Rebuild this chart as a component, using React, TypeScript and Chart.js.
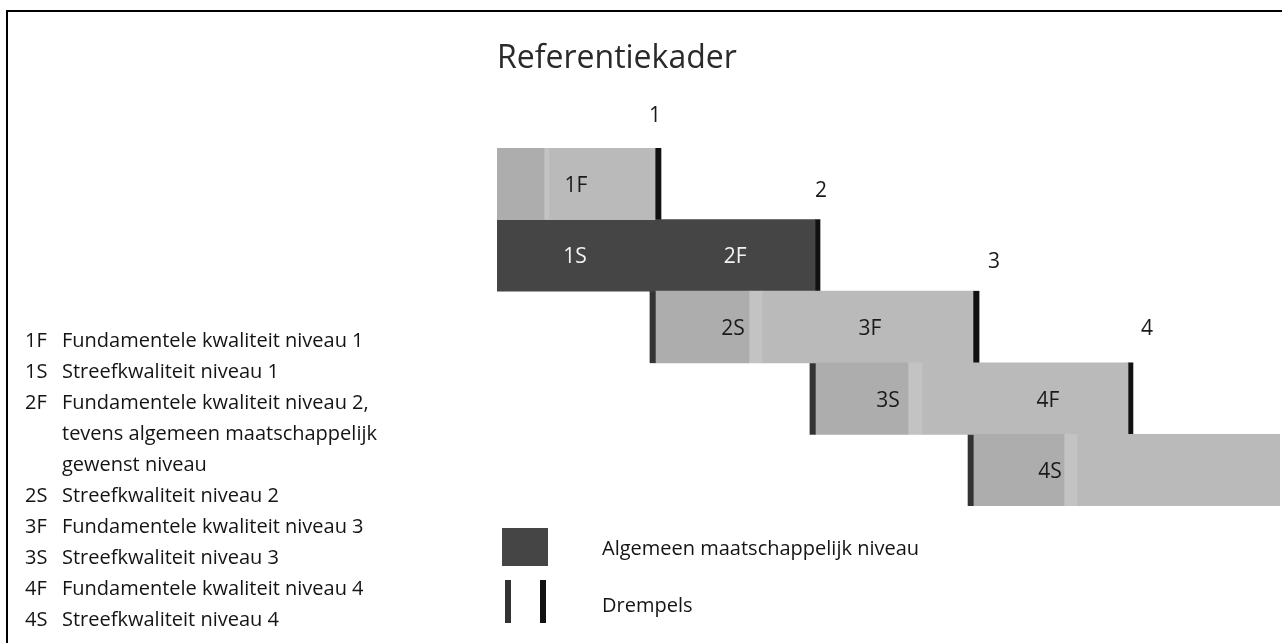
import React, { useEffect, useRef } from 'react';
import { Chart, registerables } from 'chart.js';

Chart.register(...registerables);

// Rows of the diagram (top to bottom)
const rows = ['rij1', 'rij2', 'rij3', 'rij4', 'rij5'];

// Floating segments in "niveau" units (0 = left edge of the diagram)
const startThreshold = [null, null, [0.956, 0.994], [1.956, 1.994], [2.944, 2.981]];
const midSegment = [[0, 0.294], null, [0.994, 1.575], [1.994, 2.569], [2.981, 3.544]];
const seamSegment = [[0.294, 0.325], null, [1.575, 1.656], [2.569, 2.656], [3.544, 3.625]];
const lightSegment = [[0.325, 0.988], null, [1.656, 2.975], [2.656, 3.944], [3.625, 4.894]];
const generalSegment = [null, [0, 1.988], null, null, null];
const endThreshold = [[0.988, 1.025], [1.988, 2.019], [2.975, 3.013], [3.944, 3.975], null];

// Labels inside bars
const barLabels = ['1F', '1S', '2F', '2S', '3F', '3S', '4F', '4S'];
const barLabelRow = [0, 1, 1, 2, 2, 3, 3, 4];
const barLabelX = [0.494, 0.488, 1.488, 1.475, 2.331, 2.444, 3.444, 3.456];

// Threshold numbers above the bars
const thresholdLabels = ['1', '2', '3', '4'];
const thresholdLabelX = [0.9875, 2.025, 3.106, 4.0625];
const thresholdLabelRise = [32, 29, 29, 34];

// Left legend
const legendCodes = ['1F', '1S', '2F', '', '', '2S', '3F', '3S', '4F', '4S'];
const legendLines = [
  'Fundamentele kwaliteit niveau 1',
  'Streefkwaliteit niveau 1',
  'Fundamentele kwaliteit niveau 2,',
  'tevens algemeen maatschappelijk',
  'gewenst niveau',
  'Streefkwaliteit niveau 2',
  'Fundamentele kwaliteit niveau 3',
  'Streefkwaliteit niveau 3',
  'Fundamentele kwaliteit niveau 4',
  'Streefkwaliteit niveau 4',
];

const FONT = "'Open Sans', 'Noto Sans', sans-serif";

const labelPlugin = {
  id: 'refLabels',
  afterDatasetsDraw(chart: any) {
    const { ctx } = chart;
    const x = chart.scales.x;
    const y = chart.scales.y;
    const rowH = (y.bottom - y.top) / rows.length;
    ctx.save();
    ctx.font = `21px ${FONT}`;
    ctx.textAlign = 'center';
    ctx.textBaseline = 'middle';
    barLabels.forEach((t, i) => {
      const r = barLabelRow[i];
      ctx.fillStyle = generalSegment[r] ? '#f2f2f2' : '#1a1a1a';
      ctx.fillText(t, x.getPixelForValue(barLabelX[i]), y.getPixelForValue(r) + 2);
    });
    ctx.fillStyle = '#1a1a1a';
    thresholdLabels.forEach((t, i) => {
      const top = y.getPixelForValue(i) - rowH / 2;
      ctx.fillText(t, x.getPixelForValue(thresholdLabelX[i]), top - thresholdLabelRise[i]);
    });
    ctx.restore();
  },
};

export default function App() {
  const ref = useRef<HTMLCanvasElement | null>(null);

  useEffect(() => {
    if (!ref.current) return;
    const common = {
      grouped: false,
      borderWidth: 0,
      barPercentage: 1,
      categoryPercentage: 1,
    };
    const chart = new Chart(ref.current, {
      type: 'bar',
      data: {
        labels: rows,
        datasets: [
          { ...common, label: 'midden', data: midSegment as any, backgroundColor: '#adadad' },
          { ...common, label: 'naad', data: seamSegment as any, backgroundColor: '#c3c3c3' },
          { ...common, label: 'licht', data: lightSegment as any, backgroundColor: '#bababa' },
          { ...common, label: 'Algemeen maatschappelijk niveau', data: generalSegment as any, backgroundColor: '#454545' },
          { ...common, label: 'Drempel begin', data: startThreshold as any, backgroundColor: '#333333' },
          { ...common, label: 'Drempel eind', data: endThreshold as any, backgroundColor: '#111111' },
        ],
      },
      options: {
        indexAxis: 'y',
        responsive: false,
        animation: false,
        events: [],
        layout: { padding: { left: 497, right: 2, top: 0, bottom: 137 } },
        scales: {
          x: { type: 'linear', min: 0, max: 4.894, display: false },
          y: { type: 'category', display: false },
        },
        plugins: {
          legend: { display: false },
          tooltip: { enabled: false },
          title: {
            display: true,
            text: 'Referentiekader',
            align: 'start',
            color: '#2a2a2a',
            font: { size: 32, family: FONT, weight: 'normal' },
            padding: { top: 39.4, bottom: 70.2 },
          },
        },
      },
      plugins: [labelPlugin],
    } as any);
    return () => chart.destroy();
  }, []);

  const textStyle: React.CSSProperties = {
    position: 'absolute',
    whiteSpace: 'nowrap',
    fontFamily: FONT,
    fontSize: 20,
    lineHeight: '31px',
    color: '#141414',
  };

  return (
    <div style={{ position: 'absolute', left: 0, top: 0, width: 1282, height: 643, overflow: 'hidden', background: '#fff' }}>
      <canvas ref={ref} width={1282} height={643} style={{ position: 'absolute', left: 0, top: 0 }} />
      <div style={{ position: 'absolute', left: 6, top: 10, width: 1276, height: 633, borderTop: '2px solid #000', borderLeft: '2px solid #000', boxSizing: 'border-box' }} />
      {legendLines.map((line, i) => (
        <React.Fragment key={i}>
          {legendCodes[i] && <div style={{ ...textStyle, left: 25, top: 324 + i * 31 }}>{legendCodes[i]}</div>}
          <div style={{ ...textStyle, left: 62, top: 324 + i * 31 }}>{line}</div>
        </React.Fragment>
      ))}
      <div style={{ position: 'absolute', left: 502, top: 528, width: 46, height: 38, background: '#454545' }} />
      <div style={{ position: 'absolute', left: 505, top: 580, width: 6, height: 43, background: '#333' }} />
      <div style={{ position: 'absolute', left: 540, top: 580, width: 6, height: 43, background: '#111' }} />
      <div style={{ ...textStyle, left: 602, top: 532 }}>Algemeen maatschappelijk niveau</div>
      <div style={{ ...textStyle, left: 602, top: 589 }}>Drempels</div>
    </div>
  );
}
